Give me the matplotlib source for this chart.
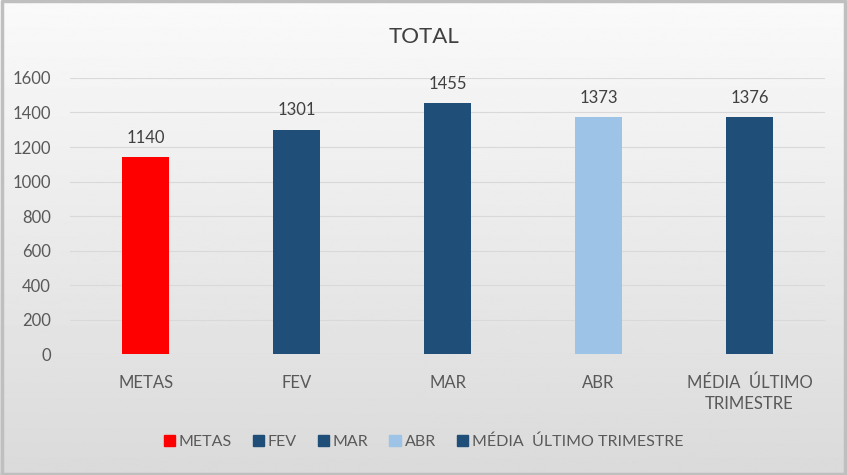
import numpy as np
import matplotlib.pyplot as plt
from matplotlib.patches import Patch

categorias = ["METAS", "FEV", "MAR", "ABR", "MÉDIA  ÚLTIMO\nTRIMESTRE"]
legenda = ["METAS", "FEV", "MAR", "ABR", "MÉDIA  ÚLTIMO TRIMESTRE"]
valores = [1140, 1301, 1455, 1373, 1376]
cores = ["#ff0000", "#1f4e79", "#1f4e79", "#9dc3e6", "#1f4e79"]

plt.rcParams['font.family'] = ['Lato', 'DejaVu Sans']

fig = plt.figure(figsize=(8.47, 4.75), dpi=100)

# fundo em degrade
bg = fig.add_axes([0, 0, 1, 1], zorder=-10)
grad = np.linspace(0.98, 0.855, 256).reshape(-1, 1)
bg.imshow(grad, aspect='auto', cmap='gray', vmin=0, vmax=1, extent=[0, 1, 0, 1])
bg.set_xlim(0, 1)
bg.set_ylim(0, 1)
bg.axis('off')
s = 0.002
bg.plot([s, 1 - s, 1 - s, s, s], [s, s, 1 - s, 1 - s, s], color='#bfbfbf', lw=2.5)

ax = fig.add_axes([0.083, 0.2547, 0.891, 0.5811])
ax.patch.set_alpha(0)
x = np.arange(len(categorias))
ax.bar(x, valores, width=0.31, color=cores, zorder=3)
for xi, v in zip(x, valores):
    ax.annotate(f"{v}", (xi, v), xytext=(0, 8), textcoords='offset points',
                ha='center', va='bottom', fontsize=12, color='#404040')

ax.set_ylim(0, 1600)
ax.set_xlim(-0.5, len(categorias) - 0.5)
ax.set_yticks(np.arange(0, 1601, 200))
ax.yaxis.grid(True, color='#d9d9d9', lw=0.8, zorder=0)
ax.set_xticks(x)
ax.set_xticklabels(categorias, fontsize=12, color='#595959', linespacing=1.35)
ax.tick_params(axis='y', labelsize=12, labelcolor='#595959', length=0, pad=14)
ax.tick_params(axis='x', length=0, pad=15)
for sp in ax.spines.values():
    sp.set_visible(False)

fig.text(0.5, 0.922, "TOTAL", ha='center', va='center', fontsize=16, color='#404040')

handles = [Patch(color=c) for c in cores]
fig.legend(handles, legenda, loc='center', bbox_to_anchor=(0.5, 0.069), ncol=5,
           frameon=False, fontsize=11.5, labelcolor='#595959', handlelength=0.7,
           handleheight=0.7, handletextpad=0.25, columnspacing=1.3)

fig.savefig("out.png", dpi=100)
